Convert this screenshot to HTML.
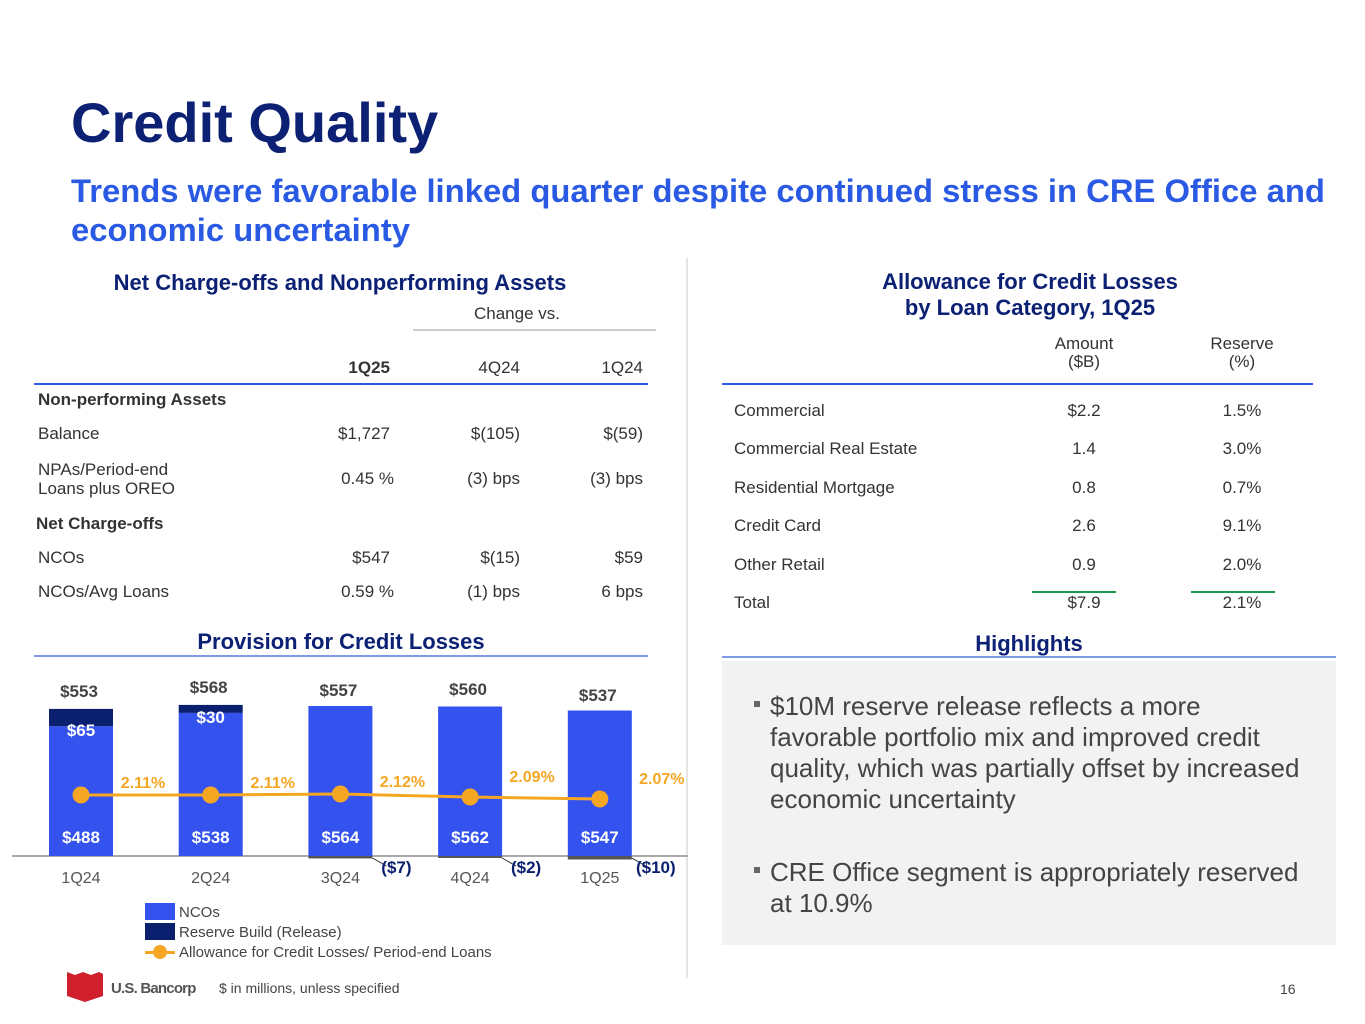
<!DOCTYPE html>
<html><head><meta charset="utf-8">
<style>
body{margin:0;width:1365px;height:1024px;background:#fff;position:relative;overflow:hidden;font-family:"Liberation Sans",sans-serif;color:#333;}
.a{position:absolute;white-space:nowrap;}
.r{text-align:right;}
.c{text-align:center;}
.t{font-size:17px;}
.b{font-weight:bold;}
.h{color:#0c2074;font-weight:bold;font-size:22px;}
</style></head><body>
<div class="a" style="left:71px;top:90px;font-size:56px;font-weight:bold;color:#0c2074;">Credit Quality</div>
<div class="a" style="left:71px;top:171px;font-size:32.8px;font-weight:bold;color:#2a5ae3;line-height:39px;white-space:normal;width:1290px;">Trends were favorable linked quarter despite continued stress in CRE Office and economic uncertainty</div>
<div class="a" style="left:686px;top:258px;width:2px;height:720px;background:#e4e4e4;"></div>

<div class="a c h" style="left:30px;width:620px;top:270px;">Net Charge-offs and Nonperforming Assets</div>
<div class="a t" style="left:474px;top:304px;">Change vs.</div>
<div class="a" style="left:413px;top:329px;width:243px;height:2px;background:#ccc;"></div>
<div class="a t b r" style="left:290px;width:100px;top:358px;">1Q25</div>
<div class="a t r" style="left:420px;width:100px;top:358px;">4Q24</div>
<div class="a t r" style="left:543px;width:100px;top:358px;">1Q24</div>
<div class="a" style="left:34px;top:383px;width:614px;height:2px;background:#2a5ae3;"></div>
<div class="a t b" style="left:38px;top:390px;">Non-performing Assets</div>
<div class="a t" style="left:38px;top:424px;">Balance</div>
<div class="a t r" style="left:290px;width:100px;top:424px;">$1,727</div>
<div class="a t r" style="left:420px;width:100px;top:424px;">$(105)</div>
<div class="a t r" style="left:543px;width:100px;top:424px;">$(59)</div>
<div class="a t" style="left:38px;top:460px;line-height:19px;">NPAs/Period-end<br>Loans plus OREO</div>
<div class="a t r" style="left:294px;width:100px;top:469px;">0.45 %</div>
<div class="a t r" style="left:420px;width:100px;top:469px;">(3) bps</div>
<div class="a t r" style="left:543px;width:100px;top:469px;">(3) bps</div>
<div class="a t b" style="left:36px;top:514px;">Net Charge-offs</div>
<div class="a t" style="left:38px;top:548px;">NCOs</div>
<div class="a t r" style="left:290px;width:100px;top:548px;">$547</div>
<div class="a t r" style="left:420px;width:100px;top:548px;">$(15)</div>
<div class="a t r" style="left:543px;width:100px;top:548px;">$59</div>
<div class="a t" style="left:38px;top:582px;">NCOs/Avg Loans</div>
<div class="a t r" style="left:294px;width:100px;top:582px;">0.59 %</div>
<div class="a t r" style="left:420px;width:100px;top:582px;">(1) bps</div>
<div class="a t r" style="left:543px;width:100px;top:582px;">6 bps</div>

<div class="a c h" style="left:0;width:682px;top:629px;">Provision for Credit Losses</div>
<div class="a" style="left:34px;top:655px;width:614px;height:2px;background:#7f9be8;"></div>

<svg id="chart" class="a" style="left:0;top:660px;" width="700" height="310"></svg>

<div class="a" style="left:145px;top:903px;width:30px;height:17px;background:#3352ee;"></div>
<div class="a" style="left:179px;top:904px;font-size:15px;color:#444;">NCOs</div>
<div class="a" style="left:145px;top:923px;width:30px;height:17px;background:#0a1f6e;"></div>
<div class="a" style="left:179px;top:924px;font-size:15px;color:#444;">Reserve Build (Release)</div>
<div class="a" style="left:145px;top:951px;width:30px;height:3px;background:#f5a623;"></div>
<div class="a" style="left:153px;top:945px;width:14px;height:14px;border-radius:50%;background:#f5a623;"></div>
<div class="a" style="left:179px;top:944px;font-size:15px;color:#444;">Allowance for Credit Losses/ Period-end Loans</div>

<svg class="a" style="left:67px;top:972px;" width="38" height="30"><path d="M0 0 L8 3 L16 0 L24 3 L32 0 L36 2 L36 24 L18 30 L0 24 Z" fill="#d0202e"/></svg>
<div class="a" style="left:111px;top:980px;font-size:15px;font-weight:bold;color:#555;letter-spacing:-0.8px;">U.S. Bancorp</div>
<div class="a" style="left:219px;top:980px;font-size:14px;color:#444;">$ in millions, unless specified</div>
<div class="a" style="left:1280px;top:981px;font-size:14px;color:#444;">16</div>

<div class="a c h" style="left:720px;width:620px;top:269px;line-height:26px;">Allowance for Credit Losses<br>by Loan Category, 1Q25</div>
<div class="a t c" style="left:1034px;width:100px;top:335px;line-height:18px;">Amount<br>($B)</div>
<div class="a t c" style="left:1192px;width:100px;top:335px;line-height:18px;">Reserve<br>(%)</div>
<div class="a" style="left:722px;top:383px;width:591px;height:2px;background:#2a5ae3;"></div>
<div id="alw"></div>
<div class="a" style="left:1032px;top:591px;width:84px;height:2px;background:#1a9a4a;"></div>
<div class="a" style="left:1191px;top:591px;width:84px;height:2px;background:#1a9a4a;"></div>

<div class="a c h" style="left:722px;width:614px;top:631px;">Highlights</div>
<div class="a" style="left:722px;top:656px;width:614px;height:2px;background:#7f9be8;"></div>
<div class="a" style="left:722px;top:661px;width:614px;height:284px;background:#f2f2f2;">
  <div class="a" style="left:32px;top:40px;width:6px;height:6px;background:#666;"></div>
  <div class="a" style="left:48px;top:30px;width:560px;white-space:normal;font-size:26px;line-height:31px;color:#444;">$10M reserve release reflects a more<br>favorable portfolio mix and improved credit quality, which was partially offset by increased economic uncertainty</div>
  <div class="a" style="left:32px;top:206px;width:6px;height:6px;background:#666;"></div>
  <div class="a" style="left:48px;top:196px;width:560px;white-space:normal;font-size:26px;line-height:31px;color:#444;">CRE Office segment is appropriately reserved<br>at 10.9%</div>
</div>

<script>
const alwCategories=["Commercial","Commercial Real Estate","Residential Mortgage","Credit Card","Other Retail","Total"];
const alwAmounts=["$2.2","1.4","0.8","2.6","0.9","$7.9"];
const alwReserves=["1.5%","3.0%","0.7%","9.1%","2.0%","2.1%"];
const alw=document.getElementById('alw');
alwCategories.forEach((c,i)=>{
  const y=401+i*38.4;
  const row=document.createElement('div');
  
  
  row.innerHTML=`<div class="a t" style="left:734px;top:${y}px">${c}</div><div class="a t c" style="left:1034px;width:100px;top:${y}px">${alwAmounts[i]}</div><div class="a t c" style="left:1192px;width:100px;top:${y}px">${alwReserves[i]}</div>`;
  alw.appendChild(row);
});

const quarters=["1Q24","2Q24","3Q24","4Q24","1Q25"];
const ncos=[488,538,564,562,547];
const reserveBuild=[65,30,-7,-2,-10];
const provision=[553,568,557,560,537];
const allowancePct=[2.11,2.11,2.12,2.09,2.07];
const pctLabels=["2.11%","2.11%","2.12%","2.09%","2.07%"];
const NS="http://www.w3.org/2000/svg";
const svg=document.getElementById('chart');
const base=196, k=0.266, bw=64;
const xc=i=>81+i*129.7;
const yv=v=>base-v*k;
const yp=p=>135-(p-2.11)*100;
function el(tag,attrs,name,text){const e=document.createElementNS(NS,tag);for(const a in attrs)e.setAttribute(a,attrs[a]);


if(text!==undefined)e.textContent=text;svg.appendChild(e);return e;}
el('line',{x1:12,x2:688,y1:base,y2:base,stroke:'#aaa','stroke-width':2},'x-axis');
quarters.forEach((q,i)=>{
  const x=xc(i);
  el('rect',{x:x-bw/2,y:yv(ncos[i]),width:bw,height:base-yv(ncos[i]),fill:'#3352ee'},'bar-nco-'+q);
  if(reserveBuild[i]>0){
    el('rect',{x:x-bw/2,y:yv(ncos[i]+reserveBuild[i]),width:bw,height:reserveBuild[i]*k,fill:'#0a1f6e'},'bar-reserve-'+q);
    el('text',{x:x,y:yv(ncos[i])+10,'text-anchor':'middle',fill:'#fff','font-size':17,'font-weight':'bold'},'reserve-label-'+q,'$'+reserveBuild[i]);
  } else {
    el('rect',{x:x-bw/2,y:base,width:bw,height:Math.max(2,-reserveBuild[i]*0.35),fill:'#555'},'bar-release-'+q);
    el('line',{x1:x+bw/2,y1:base+2,x2:x+bw/2+14,y2:base+10,stroke:'#333','stroke-width':1},'release-leader-'+q);
    el('text',{x:x+bw/2+24,y:base+17,'text-anchor':'middle',fill:'#0a1f6e','font-size':17,'font-weight':'bold'},'release-label-'+q,'($'+(-reserveBuild[i])+')');
  }
  el('text',{x:x,y:base-13,'text-anchor':'middle',fill:'#fff','font-size':17,'font-weight':'bold'},'nco-label-'+q,'$'+ncos[i]);
  el('text',{x:x-2,y:yv(provision[i])-12,'text-anchor':'middle',fill:'#444','font-size':17,'font-weight':'bold'},'total-label-'+q,'$'+provision[i]);
  el('text',{x:x,y:base+27,'text-anchor':'middle',fill:'#555','font-size':16},'x-label-'+q,q);
});
let d='';allowancePct.forEach((p,i)=>{d+=(i?'L':'M')+xc(i)+' '+yp(p);});
el('path',{d:d,stroke:'#f5a623','stroke-width':3,fill:'none'},'allowance-line');
allowancePct.forEach((p,i)=>{
  el('circle',{cx:xc(i),cy:yp(p),r:8.5,fill:'#f5a623'},'allowance-point-'+quarters[i]);
  el('text',{x:xc(i)+62,y:yp(p)-(i>=3?15:7),'text-anchor':'middle',fill:'#f5a623','font-size':16,'font-weight':'bold'},'allowance-label-'+quarters[i],pctLabels[i]);
});
</script>
</body></html>
